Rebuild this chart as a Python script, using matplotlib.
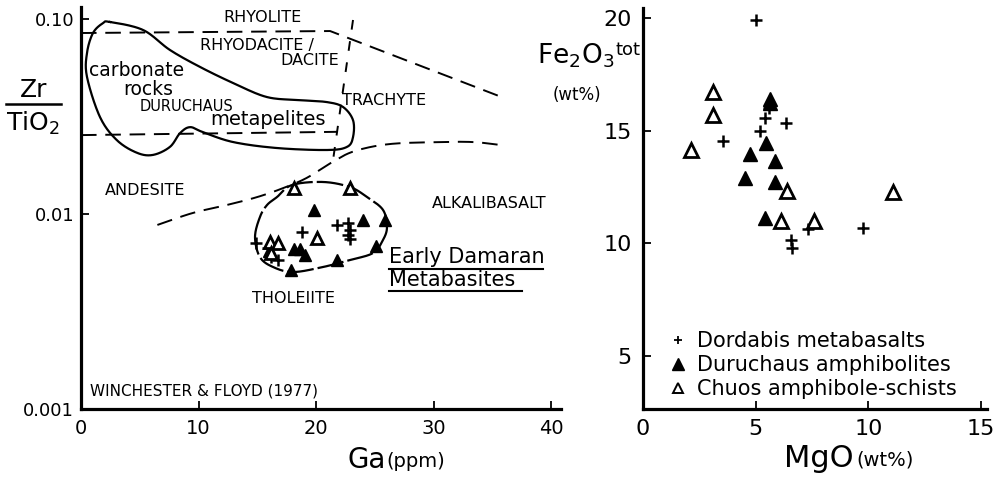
import numpy as np
import matplotlib
matplotlib.use("Agg")
import matplotlib.pyplot as plt
from matplotlib.lines import Line2D

W, H = 996, 479
plt.rcParams['font.family'] = ['DejaVu Sans']
plt.rcParams['mathtext.default'] = 'regular'

# ---------------- Left panel: Ga (ppm) vs Zr/TiO2 ----------------
dordabis_ga = [14.9, 15.9, 16.2, 16.8, 18.8, 21.8, 22.75, 22.9, 22.75, 22.9]
dordabis_zr = [0.00708, 0.00667, 0.00604, 0.00581, 0.00811, 0.00879, 0.00896, 0.00828, 0.00780, 0.00741]
duru_ga = [19.8, 24.0, 25.9, 25.1, 21.8, 17.9, 18.1, 18.6, 19.1, 16.0]
duru_zr = [0.0105, 0.00931, 0.00931, 0.00686, 0.00581, 0.00516, 0.00659, 0.00659, 0.00613, 0.0065]
chuos_ga = [18.1, 22.9, 20.1, 16.1, 16.8, 16.2]
chuos_zr = [0.01355, 0.01355, 0.0075, 0.00721, 0.00713, 0.00631]

# field boundaries (Winchester & Floyd 1977)
upper_ga = [0, 21.2, 35.8]
upper_zr = [0.0848, 0.0868, 0.0398]
vert_ga = [23.15, 21.45]
vert_zr = [0.0989, 0.0189]
lower_ga = [0, 21.8]
lower_zr = [0.0254, 0.0264]
subalk_ga = [6.5, 9.5, 12.4, 15.0, 17.2, 19.2, 21.4, 23.3, 26.3, 30.6, 33.4, 35.7]
subalk_zr = [0.00879, 0.01012, 0.01112, 0.01222, 0.01358, 0.01531, 0.01849,
             0.02104, 0.02286, 0.02339, 0.02339, 0.0226]

# outline of carbonate rocks / Duruchaus metapelites field
pel_ga = [2.47, 5.28, 7.57, 10.13, 12.94, 15.83, 18.64, 20.94, 22.30, 23.15, 23.15, 22.64,
          20.94, 16.68, 12.94, 10.38, 9.28, 8.43, 7.57, 6.13, 4.77, 3.06, 1.62, 0.51, 0.51,
          1.02, 1.87]
pel_zr = [0.0966, 0.0879, 0.0694, 0.0568, 0.0470, 0.0398, 0.0384, 0.0375, 0.0354, 0.0303,
          0.0248, 0.0221, 0.0213, 0.0218, 0.0234, 0.0263, 0.0279, 0.0260, 0.0221, 0.0201,
          0.0206, 0.0239, 0.0314, 0.0505, 0.0670, 0.0848, 0.0953]

# outline of Early Damaran metabasites
meta_ga = [14.81, 15.23, 15.83, 16.68, 17.96, 20.60, 22.89, 24.34, 25.70, 26.04, 25.70,
           24.85, 22.89, 20.60, 18.04, 16.34, 15.23]
meta_zr = [0.00762, 0.00966, 0.01112, 0.01222, 0.01409, 0.01460, 0.01375, 0.01222, 0.01050,
           0.00857, 0.00736, 0.00631, 0.00581, 0.00535, 0.00504, 0.00535, 0.00601]

# ---------------- Right panel: MgO vs Fe2O3tot ----------------
dordabis_mgo = [5.03, 5.59, 5.40, 6.36, 5.21, 3.53, 7.31, 9.75, 6.58, 6.61]
dordabis_fe = [19.89, 16.0, 15.56, 15.34, 14.97, 14.53, 10.65, 10.69, 10.15, 9.77]
duru_mgo = [5.62, 5.62, 5.44, 4.73, 5.84, 4.54, 5.88, 5.40]
duru_fe = [16.40, 16.22, 14.46, 13.98, 13.67, 12.91, 12.71, 11.14]
chuos_mgo = [3.11, 3.11, 2.15, 6.40, 11.08, 6.13, 7.58]
chuos_fe = [16.70, 15.71, 14.13, 12.31, 12.27, 10.99, 10.99]

legend_labels = ["Dordabis metabasalts", "Duruchaus amphibolites", "Chuos amphibole-schists"]


def fx(x):
    return x / W


def fy(y):
    return 1 - y / H


def _cr(a0, a1, a2, a3, t):
    return 0.5 * ((2 * a1) + (-a0 + a2) * t + (2 * a0 - 5 * a1 + 4 * a2 - a3) * t ** 2
                  + (-a0 + 3 * a1 - 3 * a2 + a3) * t ** 3)


def closed_curve(xs, ys, n=20):
    """Smooth closed Catmull-Rom curve in (x, log10 y) space."""
    x = np.asarray(xs, float)
    ly = np.log10(np.asarray(ys, float))
    m = len(x)
    outx, outy = [], []
    t = np.linspace(0, 1, n, endpoint=False)
    for i in range(m):
        idx = [(i + k) % m for k in (-1, 0, 1, 2)]
        outx.extend(_cr(*x[idx], t))
        outy.extend(_cr(*ly[idx], t))
    outx.append(outx[0])
    outy.append(outy[0])
    return np.array(outx), 10 ** np.array(outy)


def open_curve(xs, ys, n=20):
    x = np.asarray(xs, float)
    ly = np.log10(np.asarray(ys, float))
    m = len(x)
    xe = np.concatenate([[2 * x[0] - x[1]], x, [2 * x[-1] - x[-2]]])
    ye = np.concatenate([[2 * ly[0] - ly[1]], ly, [2 * ly[-1] - ly[-2]]])
    outx, outy = [], []
    t = np.linspace(0, 1, n, endpoint=False)
    for i in range(1, m):
        outx.extend(_cr(xe[i - 1], xe[i], xe[i + 1], xe[i + 2], t))
        outy.extend(_cr(ye[i - 1], ye[i], ye[i + 1], ye[i + 2], t))
    outx.append(x[-1])
    outy.append(ly[-1])
    return np.array(outx), 10 ** np.array(outy)


fig = plt.figure(figsize=(W / 100, H / 100), dpi=100)

# ---------- left axes ----------
axL = fig.add_axes([fx(81), fy(409), (561 - 81) / W, (409 - 7) / H])
axL.set_yscale('log')
axL.set_xlim(0, 40.85)
axL.set_ylim(0.001, 0.1153)

dash = (0, (8, 4.5))
axL.plot(upper_ga, upper_zr, color='black', lw=1.4, ls=dash)
axL.plot(vert_ga, vert_zr, color='black', lw=1.4, ls=(0, (5, 6)))
axL.plot(lower_ga, lower_zr, color='black', lw=1.4, ls=dash)
sx, sy = open_curve(subalk_ga, subalk_zr)
axL.plot(sx, sy, color='black', lw=1.4, ls=dash)

px_, py_ = closed_curve(pel_ga, pel_zr)
axL.plot(px_, py_, color='black', lw=1.6)
mx_, my_ = closed_curve(meta_ga, meta_zr)
axL.plot(mx_, my_, color='black', lw=1.6, ls=(0, (12, 1.8)))

axL.plot(dordabis_ga, dordabis_zr, ls='none', marker='+', ms=8, mew=1.8, color='black')
axL.plot(duru_ga, duru_zr, ls='none', marker='^', ms=8.5, mfc='black', mec='black', mew=1)
axL.plot(chuos_ga, chuos_zr, ls='none', marker='^', ms=8.5, mfc='white', mec='black', mew=2)

axL.set_xticks([0, 10, 20, 30, 40])
axL.set_xticklabels(['0', '10', '20', '30', '40'], fontsize=14)
axL.set_yticks([0.001, 0.01, 0.1])
axL.set_yticklabels(['0.001', '0.01', '0.10'], fontsize=13)
axL.yaxis.set_minor_locator(matplotlib.ticker.NullLocator())

# ---------- right axes ----------
axR = fig.add_axes([fx(643), fy(409), (987 - 643) / W, (409 - 8) / H])
axR.set_xlim(0, 15.27)
axR.set_ylim(2.645, 20.44)
axR.plot(dordabis_mgo, dordabis_fe, ls='none', marker='+', ms=8, mew=1.8, color='black',
         label=legend_labels[0])
axR.plot(duru_mgo, duru_fe, ls='none', marker='^', ms=9.5, mfc='black', mec='black', mew=1,
         label=legend_labels[1])
axR.plot(chuos_mgo, chuos_fe, ls='none', marker='^', ms=9.5, mfc='white', mec='black', mew=2,
         label=legend_labels[2])
axR.set_xticks([0, 5, 10, 15])
axR.set_xticklabels(['0', '5', '10', '15'], fontsize=16)
axR.set_yticks([5, 10, 15, 20])
axR.set_yticklabels(['5', '10', '15', '20'], fontsize=16)

handles = [Line2D([], [], ls='none', marker='+', ms=6, mew=1.3, color='black'),
           Line2D([], [], ls='none', marker='^', ms=8, mfc='black', mec='black'),
           Line2D([], [], ls='none', marker='^', ms=7, mfc='white', mec='black', mew=1.4)]
axR.legend(handles, legend_labels, loc='upper left', bbox_to_anchor=(fx(670), fy(331)),
           bbox_transform=fig.transFigure, frameon=False, fontsize=15,
           handlelength=0.8, handletextpad=0.5, labelspacing=0.2, borderpad=0, borderaxespad=0)

for ax in (axL, axR):
    for s in ('top', 'right'):
        ax.spines[s].set_visible(False)
    for s in ('left', 'bottom'):
        ax.spines[s].set_linewidth(2.3)
    ax.tick_params(direction='in', length=6, width=1.3, pad=7)
    ax.tick_params(axis='y', pad=5)
axR.tick_params(axis='y', pad=8)


# ---------- texts ----------
def t(x, y, s, size, **kw):
    return fig.text(fx(x), fy(y), s, fontsize=size, va='baseline', ha='left', **kw)


t(223, 22, "RHYOLITE", 11.5)
t(200, 50, "RHYODACITE /", 11.5)
t(280, 65, "DACITE", 11.5)
t(89, 76, "carbonate", 13.5)
t(123, 95, "rocks", 13.5)
t(140, 111, "DURUCHAUS", 10.5)
t(210, 125, "metapelites", 14)
t(342, 105, "TRACHYTE", 11.5)
t(105, 195, "ANDESITE", 11.5)
t(432, 208, "ALKALIBASALT", 11.5)
t(252, 303, "THOLEIITE", 11.5)
t(389, 263, "Early Damaran", 15)
t(389, 286, "Metabasites", 15)
fig.add_artist(Line2D([fx(389), fx(543)], [fy(269), fy(269)], color='black', lw=1.5))
fig.add_artist(Line2D([fx(389), fx(522)], [fy(291), fy(291)], color='black', lw=1.5))
t(90, 395, "WINCHESTER & FLOYD (1977)", 11)

# left y label as fraction
fig.text(fx(34), fy(97), "Zr", fontsize=18, ha='center', va='baseline')
fig.add_artist(Line2D([fx(6), fx(61)], [fy(104), fy(104)], color='black', lw=1.8))
fig.text(fx(33), fy(131), "TiO$_2$", fontsize=18, ha='center', va='baseline')

# x labels
t(347, 468, "Ga", 20)
t(386, 467, "(ppm)", 14)
t(784, 467, "MgO", 22)
t(856, 466, "(wt%)", 14)

# right y label
fe = t(537, 63, "Fe$_2$O$_3$", 19)
fig.canvas.draw()
bb = fe.get_window_extent()
fig.text((bb.x1 + 1) / W, fy(55), "tot", fontsize=13, va='baseline', ha='left')
t(553, 100, "(wt%)", 12)

fig.savefig("out.png", dpi=100)
